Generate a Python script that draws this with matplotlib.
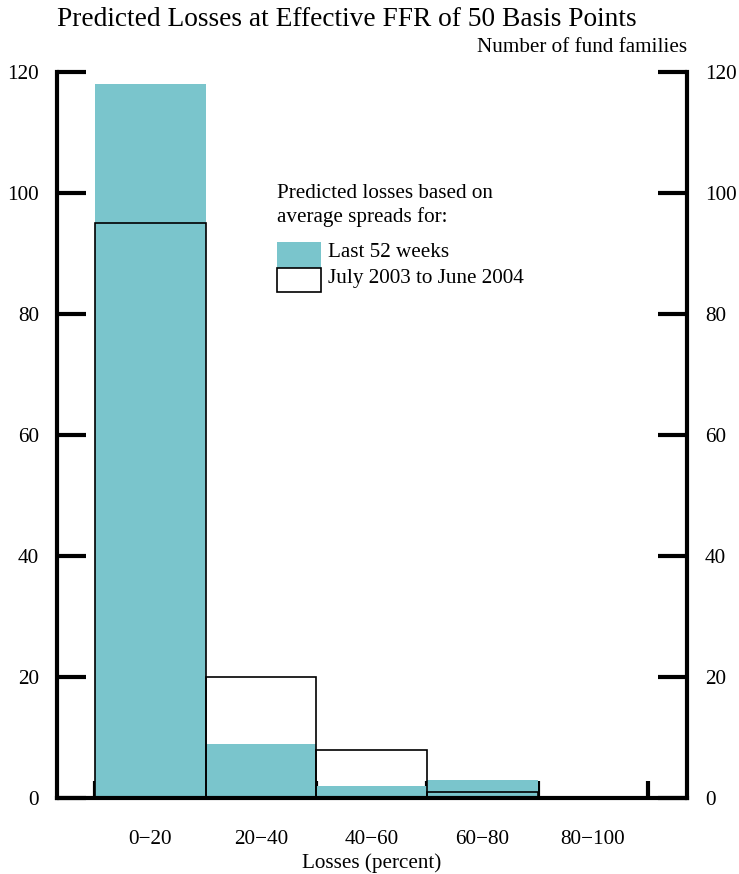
import numpy as np
import matplotlib
matplotlib.use('Agg')
import matplotlib.pyplot as plt
from matplotlib.patches import Rectangle

plt.rcParams['font.family'] = ['Liberation Serif', 'DejaVu Serif']

categories = ['0\u221220', '20\u221240', '40\u221260', '60\u221280', '80\u2212100']
last_52_weeks = [118, 9, 2, 3, 0]
july03_june04 = [95, 20, 8, 1, 0]
y_ticks = [0, 20, 40, 60, 80, 100, 120]

teal = '#7AC5CC'
edges = np.arange(0, 101, 20)
centers = edges[:-1] + 10

fig = plt.figure(figsize=(7.39, 8.74), dpi=100)
ax = fig.add_axes([57 / 739, 1 - 798 / 874, 630 / 739, 726 / 874])

ax.bar(centers, last_52_weeks, width=20, color=teal, edgecolor='none', zorder=2)
ax.bar(centers, july03_june04, width=20, facecolor='none', edgecolor='black',
       linewidth=1.2, zorder=3)

ax.set_xlim(-6.85, 107.0)
ax.set_ylim(0, 120)

for side in ['left', 'right', 'bottom']:
    ax.spines[side].set_linewidth(3)
ax.spines['top'].set_visible(False)

ax.set_yticks(y_ticks)
ax.tick_params(axis='y', which='major', direction='in', length=21, width=3,
               labelsize=15.3, pad=13, left=True, right=True,
               labelleft=True, labelright=True)

ax.set_xticks(edges)
ax.set_xticklabels([])
ax.tick_params(axis='x', which='major', direction='in', length=12, width=3)
ax.set_xticks(centers, minor=True)
ax.set_xticklabels(categories, minor=True)
ax.tick_params(axis='x', which='minor', length=0, labelsize=15.3, pad=23)

ax.set_xlabel('Losses (percent)', fontsize=15.2, labelpad=3)

fig.text(57 / 739, 1 - 20 / 874, 'Predicted Losses at Effective FFR of 50 Basis Points',
         fontsize=19.7, ha='left', va='center')
fig.text(687 / 739, 1 - 47 / 874, 'Number of fund families',
         fontsize=15.2, ha='right', va='center')

# legend drawn by hand, in data coordinates
ax.text(32.9, 100.0, 'Predicted losses based on', fontsize=15.2,
        ha='left', va='center', zorder=5)
ax.text(32.9, 96.0, 'average spreads for:', fontsize=15.2,
        ha='left', va='center', zorder=5)
ax.add_patch(Rectangle((32.9, 87.6), 7.95, 4.3, facecolor=teal, edgecolor='none', zorder=5))
ax.add_patch(Rectangle((32.9, 83.6), 7.95, 4.0, facecolor='white', edgecolor='black',
                       linewidth=1.2, zorder=5))
ax.text(42.1, 90.1, 'Last 52 weeks', fontsize=15.2, ha='left', va='center', zorder=5)
ax.text(42.1, 85.8, 'July 2003 to June 2004', fontsize=15.2, ha='left', va='center', zorder=5)

fig.savefig('out.png', dpi=100)
